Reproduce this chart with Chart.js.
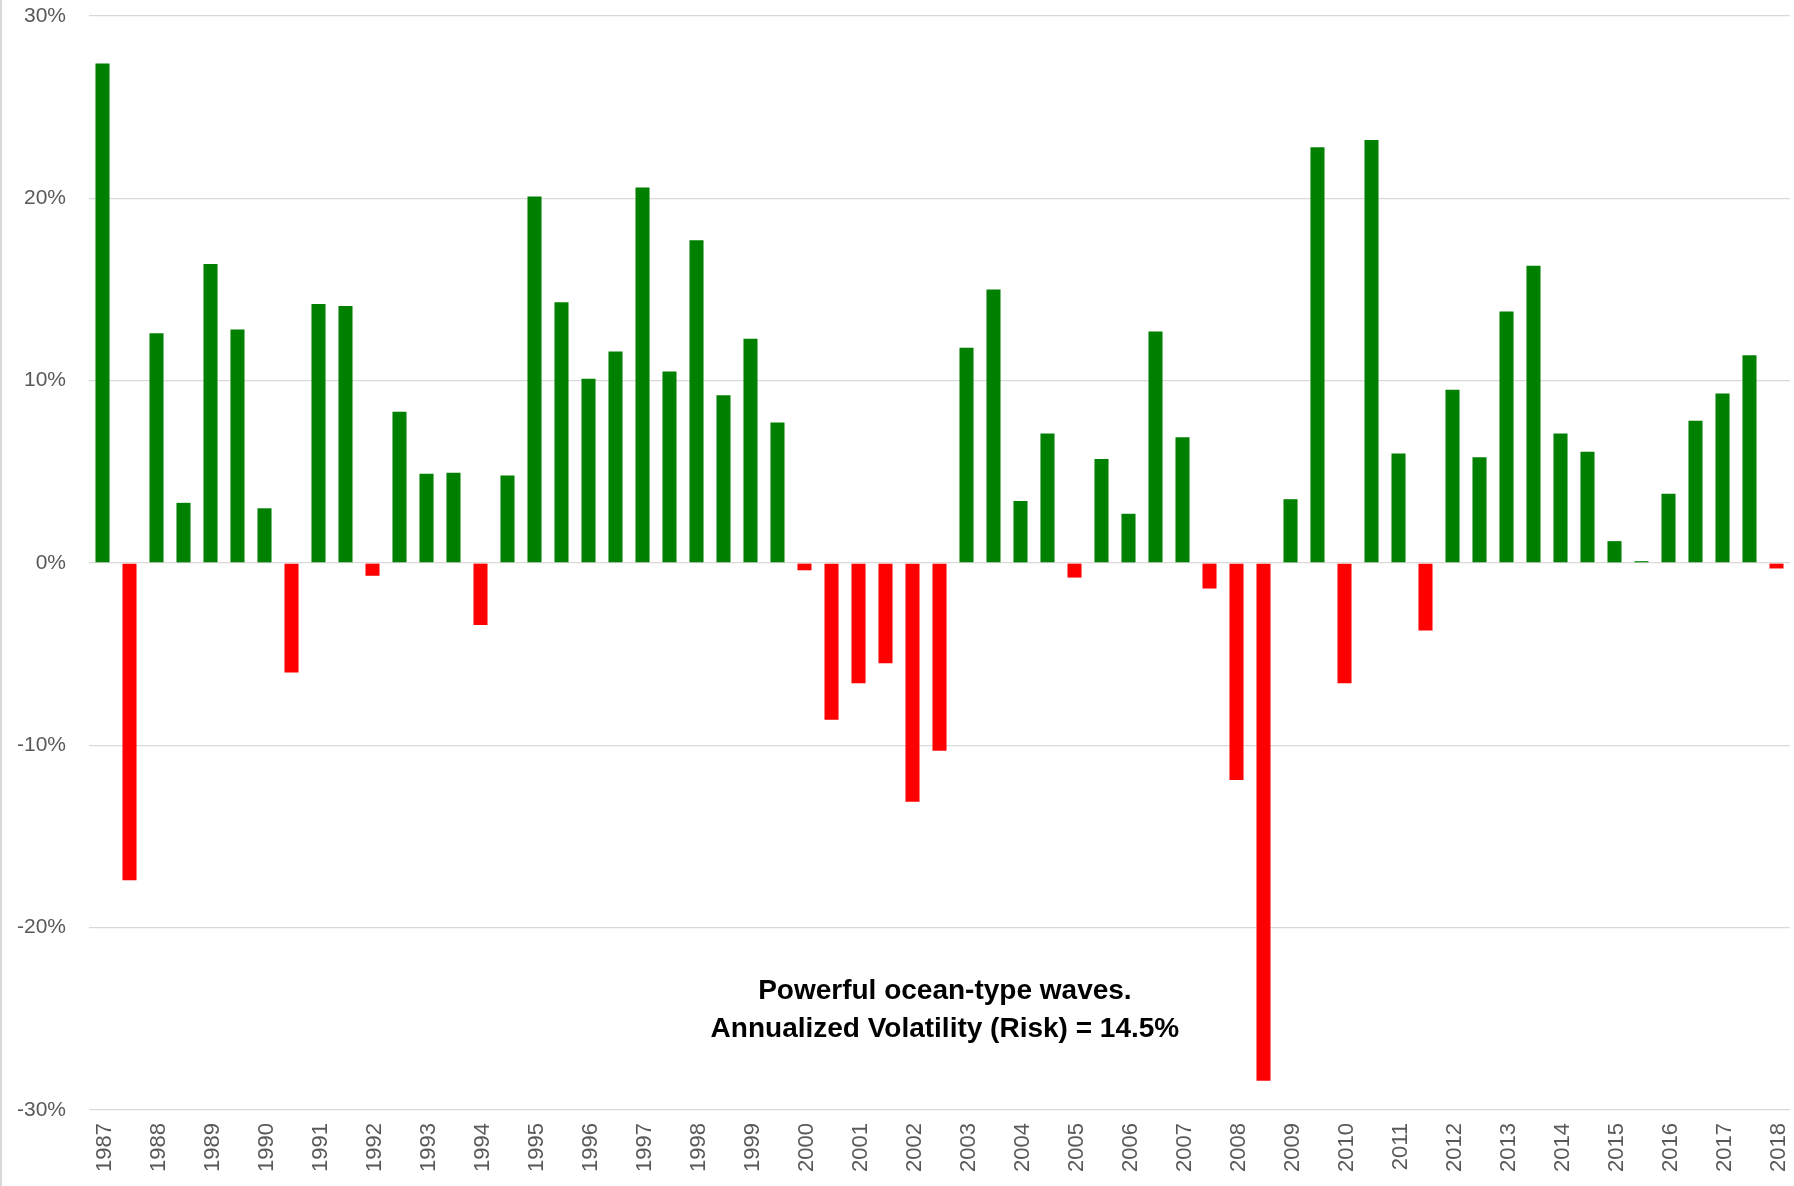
<!DOCTYPE html>
<html>
<head>
<meta charset="utf-8">
<title>Half-year returns 1987-2018</title>
<script src="https://cdn.jsdelivr.net/npm/chart.js@4.4.0/dist/chart.umd.min.js"></script>
<style>
  html, body { margin: 0; padding: 0; background: #fff; }
  #wrap { width: 1794px; height: 1186px; }
</style>
</head>
<body>
<div id="wrap"><canvas id="chartReturns" width="1794" height="1186"></canvas></div>
<script>
// Tick labels: one per year, shown under the first half of each year
const years = ['1987', '1988', '1989', '1990', '1991', '1992', '1993', '1994', '1995', '1996',
    '1997', '1998', '1999', '2000', '2001', '2002', '2003', '2004', '2005', '2006',
    '2007', '2008', '2009', '2010', '2011', '2012', '2013', '2014', '2015', '2016',
    '2017', '2018'];
const halves = ['H1', 'H2'];

// Half-year returns in % (1987 H1 ... 2018 H1)
const returns = [
    27.4, -17.4,   // 1987
    12.6, 3.3,     // 1988
    16.4, 12.8,    // 1989
    3.0, -6.0,     // 1990
    14.2, 14.1,    // 1991
    -0.7, 8.3,     // 1992
    4.9, 4.95,     // 1993
    -3.4, 4.8,     // 1994
    20.1, 14.3,    // 1995
    10.1, 11.6,    // 1996
    20.6, 10.5,    // 1997
    17.7, 9.2,     // 1998
    12.3, 7.7,     // 1999
    -0.4, -8.6,    // 2000
    -6.6, -5.5,    // 2001
    -13.1, -10.3,  // 2002
    11.8, 15.0,    // 2003
    3.4, 7.1,      // 2004
    -0.8, 5.7,     // 2005
    2.7, 12.7,     // 2006
    6.9, -1.4,     // 2007
    -11.9, -28.4,  // 2008
    3.5, 22.8,     // 2009
    -6.6, 23.2,    // 2010
    6.0, -3.7,     // 2011
    9.5, 5.8,      // 2012
    13.8, 16.3,    // 2013
    7.1, 6.1,      // 2014
    1.2, 0.1,      // 2015
    3.8, 7.8,      // 2016
    9.3, 11.4,     // 2017
    -0.3           // 2018
];

const yTicks = [-30, -20, -10, 0, 10, 20, 30];
const noteLines = ['Powerful ocean-type waves.', 'Annualized Volatility (Risk) = 14.5%'];

const categories = years.flatMap(y => halves.map(h => y + ' ' + h)).slice(0, returns.length);
const barColors = returns.map(v => v >= 0 ? '#008000' : '#ff0000');

// Left frame line + annotation text
const frameAndNote = {
    id: 'frameAndNote',
    beforeDraw(chart) {
        const ctx = chart.ctx;
        ctx.save();
        ctx.fillStyle = '#d9d9d9';
        ctx.fillRect(0, 0, 2, chart.height);
        ctx.restore();
    },
    afterDraw(chart) {
        const { ctx, scales } = chart;
        ctx.save();
        ctx.fillStyle = '#000000';
        ctx.font = 'bold 28px "Liberation Sans", Arial, sans-serif';
        ctx.textAlign = 'center';
        ctx.textBaseline = 'middle';
        const x = scales.x.getPixelForValue(31.2);
        ctx.fillText(noteLines[0], x, scales.y.getPixelForValue(-23.5));
        ctx.fillText(noteLines[1], x, scales.y.getPixelForValue(-25.6));
        ctx.restore();
    }
};

// keep the plot box where the reference has it
function noScalePadding(scale) {
    scale.paddingTop = 0;
    scale.paddingBottom = 0;
    scale.paddingLeft = 0;
    scale.paddingRight = 0;
}

new Chart(document.getElementById('chartReturns'), {
    type: 'bar',
    data: {
        labels: categories,
        datasets: [{
            label: 'Return',
            data: returns,
            backgroundColor: barColors,
            borderWidth: 0,
            categoryPercentage: 1,
            barPercentage: 0.52
        }]
    },
    options: {
        responsive: false,
        animation: false,
        devicePixelRatio: 1,
        layout: { padding: { top: 16, right: 4, left: 0, bottom: 0 } },
        plugins: { legend: { display: false }, tooltip: { enabled: false } },
        scales: {
            x: {
                grid: { display: false, drawTicks: false },
                border: { display: false },
                afterFit(scale) {
                    scale.height = 76;
                    noScalePadding(scale);
                },
                ticks: {
                    autoSkip: false,
                    minRotation: 90,
                    maxRotation: 90,
                    padding: 13,
                    labelOffset: 2,
                    color: '#595959',
                    font: { family: '"Liberation Sans", Arial, sans-serif', size: 22 },
                    callback: (val, i) => i % 2 === 0 ? years[i / 2] : ''
                }
            },
            y: {
                min: yTicks[0],
                max: yTicks[yTicks.length - 1],
                afterFit(scale) {
                    scale.width = 89;
                    noScalePadding(scale);
                },
                afterBuildTicks(scale) { scale.ticks = yTicks.map(v => ({ value: v })); },
                grid: { color: '#d9d9d9', lineWidth: 1.3, drawTicks: false },
                border: { display: false },
                ticks: {
                    padding: 23,
                    color: '#595959',
                    font: { family: '"Liberation Sans", Arial, sans-serif', size: 21 },
                    callback: v => v + '%'
                }
            }
        }
    },
    plugins: [frameAndNote]
});
</script>
</body>
</html>
